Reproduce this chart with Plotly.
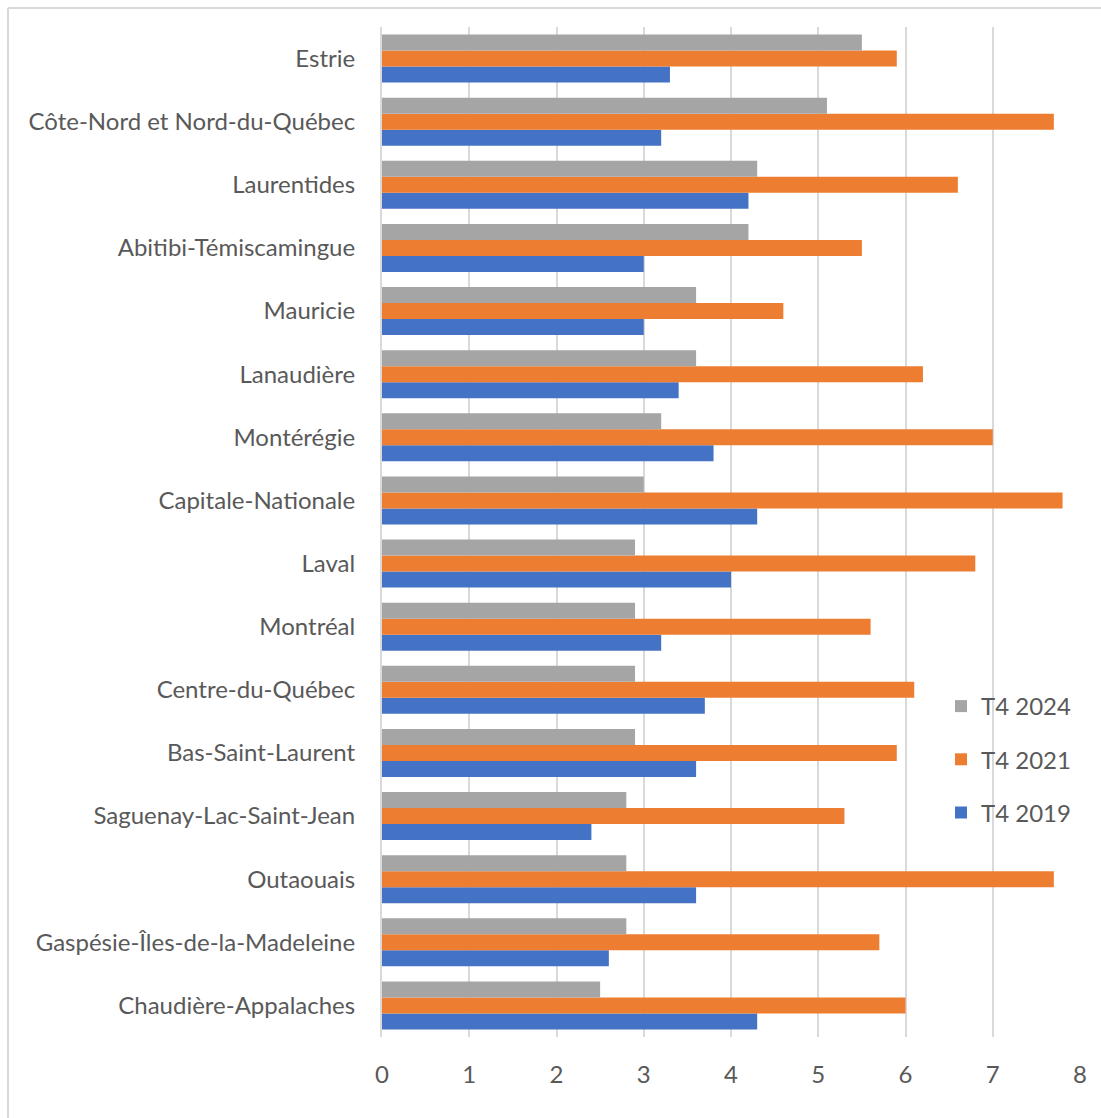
import plotly.graph_objects as go

regions = [
    "Estrie", "Côte-Nord et Nord-du-Québec", "Laurentides", "Abitibi-Témiscamingue",
    "Mauricie", "Lanaudière", "Montérégie", "Capitale-Nationale", "Laval", "Montréal",
    "Centre-du-Québec", "Bas-Saint-Laurent", "Saguenay-Lac-Saint-Jean", "Outaouais",
    "Gaspésie-Îles-de-la-Madeleine", "Chaudière-Appalaches",
]
t4_2024 = [5.5, 5.1, 4.3, 4.2, 3.6, 3.6, 3.2, 3.0, 2.9, 2.9, 2.9, 2.9, 2.8, 2.8, 2.8, 2.5]
t4_2021 = [5.9, 7.7, 6.6, 5.5, 4.6, 6.2, 7.0, 7.8, 6.8, 5.6, 6.1, 5.9, 5.3, 7.7, 5.7, 6.0]
t4_2019 = [3.3, 3.2, 4.2, 3.0, 3.0, 3.4, 3.8, 4.3, 4.0, 3.2, 3.7, 3.6, 2.4, 3.6, 2.6, 4.3]
x_ticks = [0, 1, 2, 3, 4, 5, 6, 7, 8]

# (name, values, colour, legend rank)
series = [
    ("T4 2019", t4_2019, "#4472C4", 3),
    ("T4 2021", t4_2021, "#ED7D31", 2),
    ("T4 2024", t4_2024, "#A5A5A5", 1),
]

FONT = "Lato"
FS = 24
TXT = "#595959"

fig = go.Figure()
for name, vals, color, rank in series:
    fig.add_trace(go.Bar(
        y=regions, x=vals, name=name, orientation="h",
        marker=dict(color=color, line=dict(width=0)),
        legendgroup=name, legendrank=rank,
    ))

W, H = 1101, 1118
L, R, T, B = 382, 21, 27, 81
pw, ph = W - L - R, H - T - B

def px_to_paper_x(px):
    return (px - L) / pw

def px_to_paper_y(py):
    return (H - B - py) / ph

frame_color = "#D9D9D9"
shapes = [
    dict(type="line", xref="paper", yref="paper",
         x0=px_to_paper_x(8), x1=px_to_paper_x(1110),
         y0=px_to_paper_y(8), y1=px_to_paper_y(8),
         line=dict(color=frame_color, width=2)),
    dict(type="line", xref="paper", yref="paper",
         x0=px_to_paper_x(8), x1=px_to_paper_x(8),
         y0=px_to_paper_y(8), y1=px_to_paper_y(1130),
         line=dict(color=frame_color, width=2)),
]

fig.update_layout(
    width=W, height=H,
    margin=dict(l=L, r=R, t=T, b=B, pad=0),
    paper_bgcolor="white", plot_bgcolor="white",
    barmode="group", bargap=0.24, bargroupgap=0,
    font=dict(family=FONT, size=FS, color=TXT),
    shapes=shapes,
    legend=dict(
        x=px_to_paper_x(941), y=px_to_paper_y(684), xanchor="left", yanchor="top",
        traceorder="grouped", tracegroupgap=19,
        font=dict(family=FONT, size=FS, color=TXT),
        bgcolor="rgba(0,0,0,0)", itemwidth=30,
    ),
    showlegend=True,
)
fig.update_xaxes(
    range=[0, 8], tickvals=x_ticks, showgrid=True, gridcolor="#D9D9D9", gridwidth=2,
    zeroline=False, showline=False,
    ticks="outside", ticklen=16, tickcolor="rgba(0,0,0,0)",
    tickfont=dict(family=FONT, size=FS, color=TXT), fixedrange=True,
)
fig.update_yaxes(
    type="category", categoryorder="array", categoryarray=regions[::-1],
    showgrid=False, showline=True, linecolor="#D9D9D9", linewidth=2,
    ticks="outside", ticklen=20, tickcolor="rgba(0,0,0,0)",
    tickfont=dict(family=FONT, size=FS, color=TXT),
)

fig.write_html("out.html")
